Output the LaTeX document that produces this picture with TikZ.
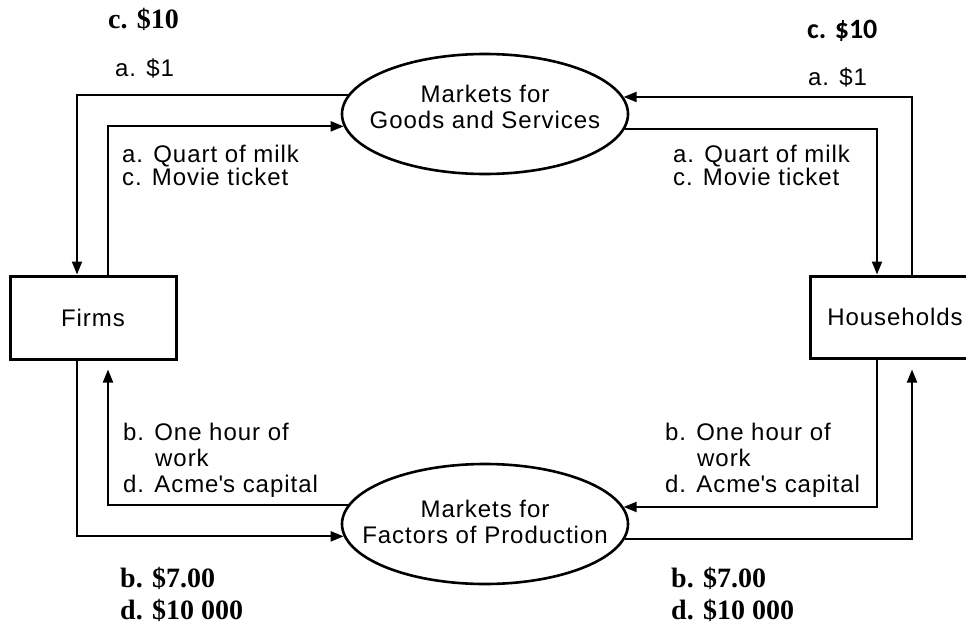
\documentclass[tikz,border=0pt]{standalone}
\usepackage{fontspec}
\setmainfont{Liberation Sans}[LetterSpace=4]
\newfontfamily\tbold{Liberation Serif}
\newfontfamily\carl{Carlito}
\usetikzlibrary{arrows.meta,shapes.geometric}
\begin{document}
\begin{tikzpicture}[x=1pt,y=-1pt,
  lbl/.style={anchor=base west, inner sep=0pt, font=\fontsize{24}{26}\selectfont},
  ctr/.style={anchor=base, inner sep=0pt, font=\fontsize{24}{26}\selectfont},
  money/.style={anchor=base west, inner sep=0pt, font=\tbold\bfseries\fontsize{28}{30}\selectfont},
  moneyc/.style={anchor=base west, inner sep=0pt, font=\carl\bfseries\fontsize{28}{30}\selectfont},
  agent/.style={draw, line width=3pt, inner sep=0pt, font=\fontsize{24}{26}\selectfont},
  mkt/.style={ellipse, draw, line width=2.6pt, minimum width=286pt, minimum height=120pt, inner sep=0pt},
  arr/.style={line width=2pt, -{Triangle[length=13pt,width=10pt]}}]
\useasboundingbox (0,0) rectangle (966,626);
\clip (0,0) rectangle (966,626);

% agents
\node[agent, minimum width=166pt, minimum height=83pt] (firms) at (93,317.5) {Firms};
\node[agent, minimum width=170pt, minimum height=82pt] (hh) at (895,317) {Households};

% markets
\node[mkt] (gs) at (485,114) {};
\node[mkt] (fp) at (485,524) {};
\node[ctr] (gs1) at (485,102) {Markets for};
\node[ctr] (gs2) at (485,128) {Goods and Services};
\node[ctr] (fp1) at (485,517) {Markets for};
\node[ctr] (fp2) at (485,543) {Factors of Production};

% flows
\draw[arr] (gs.172.9) -| ([xshift=-16pt]firms.north);
\draw[arr] ([xshift=15pt]firms.north) |- (gs.185.75);
\draw[arr] ([xshift=17pt]hh.north) |- (gs.7.07);
\draw[arr] (gs.354.25) -| ([xshift=-18pt]hh.north);
\draw[arr] ([xshift=-16pt]firms.south) |- (fp.185.75);
\draw[arr] (fp.172.9) -| ([xshift=15pt,yshift=-9pt]firms.south);
\draw[arr] ([xshift=-18pt]hh.south) |- (fp.7.07);
\draw[arr] (fp.354.25) -| ([xshift=17pt,yshift=-10pt]hh.south);

% labels top
\node[money] (tlc) at (108,29) {c. \$10};
\node[lbl] (tla) at (115,76) {a. \$1};
\node[moneyc] (trc) at (807,39) {c. \$10};
\node[lbl] (tra) at (808,85) {a. \$1};
\node[lbl] (lq) at (122,162) {a. Quart of milk};
\node[lbl] (lm) at (122,185) {c. Movie ticket};
\node[lbl] (rq) at (673,162) {a. Quart of milk};
\node[lbl] (rm) at (673,185) {c. Movie ticket};

% labels bottom
\node[lbl] (lb1) at (123,440) {b. One hour of};
\node[lbl] (lb2) at (155,466) {work};
\node[lbl] (lb3) at (123,492) {d. Acme\textquotesingle s capital};
\node[lbl] (rb1) at (665,440) {b. One hour of};
\node[lbl] (rb2) at (697,466) {work};
\node[lbl] (rb3) at (665,492) {d. Acme\textquotesingle s capital};
\node[money] (lbm) at (120,587) {b. \$7.00};
\node[money] (ldm) at (120,619) {d. \$10 000};
\node[money] (rbm) at (671,587) {b. \$7.00};
\node[money] (rdm) at (671,619) {d. \$10 000};
\end{tikzpicture}
\end{document}
